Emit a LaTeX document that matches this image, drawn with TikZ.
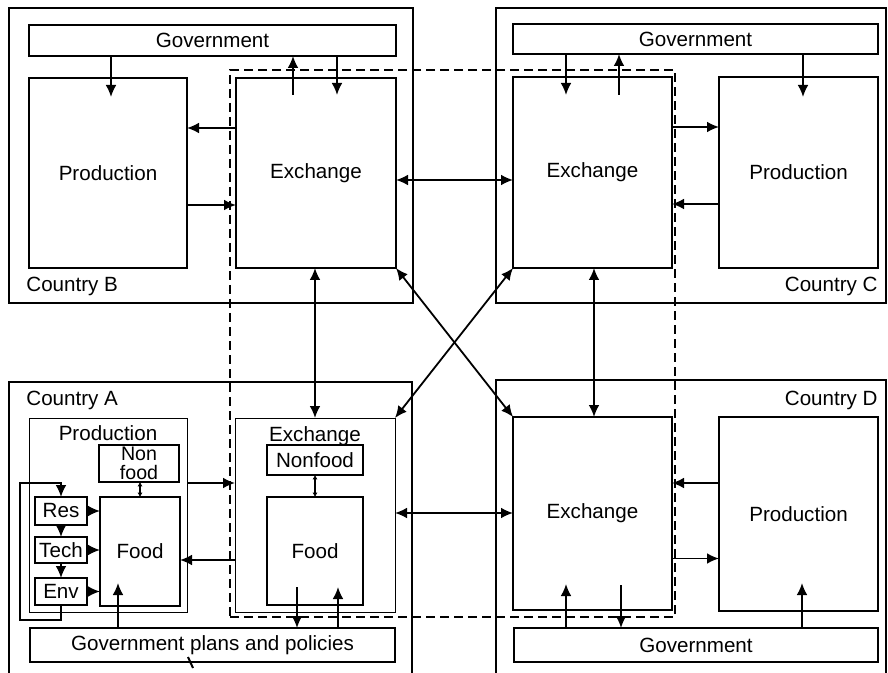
\documentclass[tikz,border=0pt]{standalone}
\usepackage{fontspec}
\setmainfont{Liberation Sans}
\usepackage{tikz}
\usetikzlibrary{arrows.meta, positioning, calc}

\begin{document}
\begin{tikzpicture}[
  x=0.5pt, y=-0.5pt,
  >={Latex[length=6pt,width=5.4pt]},
  land/.style={draw, line width=1.1pt},
  sect/.style={draw, line width=0.8pt, inner sep=0pt, outer sep=0pt,
               font=\fontsize{10.3}{12}\selectfont},
  thinsect/.style={draw, line width=0.5pt, inner sep=0pt, outer sep=0pt},
  tag/.style={inner sep=0pt, font=\fontsize{10.3}{12}\selectfont},
  arr/.style={line width=0.9pt, ->},
  darr/.style={line width=0.9pt, <->},
  link/.style={line width=0.6pt,
               {Latex[length=2.2pt,width=2.6pt]}-{Latex[length=2.2pt,width=2.6pt]}}
]
  \useasboundingbox (0,0) rectangle (888,673);
  % trading block
  \node[draw, dashed, dash pattern=on 4.5pt off 2.5pt, line width=0.7pt,
        inner sep=0pt, minimum width=222.5pt, minimum height=273.5pt]
        (bloc) at (452.5,343.5) {};

  % Country B
  \draw[land] (9,8) rectangle (413,303);
  \node[tag, anchor=base west] (tagB) at (26,292) {Country B};
  \node[sect, minimum width=183.5pt, minimum height=15.5pt] (govB) at (212.5,40.5) {Government};
  \node[sect, minimum width=79pt, minimum height=95pt] (prodB) at (108,173) {Production};
  \node[sect, minimum width=80pt, minimum height=95pt] (exB) at (316,173) {Exchange};
  \draw[arr] ([xshift=1.5pt]govB.south -| prodB.north) -- ([xshift=1.5pt,yshift=-9.5pt]prodB.north);
  \draw[arr] ([xshift=-11.5pt,yshift=-8.5pt]exB.north) -- ([xshift=-11.5pt]exB.north |- govB.south);
  \draw[arr] ([xshift=10.5pt]exB.north |- govB.south) -- ([xshift=10.5pt,yshift=-8.5pt]exB.north);
  \draw[arr] ([yshift=22.5pt]exB.west) -- ([yshift=22.5pt]exB.west -| prodB.east);
  \draw[arr] ([yshift=-16pt]prodB.east) -- ([yshift=-16pt]prodB.east -| exB.west);

  % Country C
  \draw[land] (496,8) rectangle (886,303);
  \node[tag, anchor=base east] (tagC) at (878,292) {Country C};
  \node[sect, minimum width=182.5pt, minimum height=15pt] (govC) at (695.5,39) {Government};
  \node[sect, minimum width=79.5pt, minimum height=95.5pt] (exC) at (592.5,172.5) {Exchange};
  \node[sect, minimum width=79.5pt, minimum height=95.5pt] (prodC) at (798.5,172.5) {Production};
  \draw[arr] ([xshift=-13.25pt]exC.north |- govC.south) -- ([xshift=-13.25pt,yshift=-9pt]exC.north);
  \draw[arr] ([xshift=13.25pt,yshift=-9pt]exC.north) -- ([xshift=13.25pt]exC.north |- govC.south);
  \draw[arr] ([xshift=2.25pt]govC.south -| prodC.north) -- ([xshift=2.25pt,yshift=-10pt]prodC.north);
  \draw[arr] ([yshift=22.75pt]exC.east) -- ([yshift=22.75pt]exC.east -| prodC.west);
  \draw[arr] ([yshift=-15.75pt]prodC.west) -- ([yshift=-15.75pt]prodC.west -| exC.east);

  % Country A
  \draw[land] (9,673) -- (9,382) -- (412,382) -- (412,673);
  \node[tag, anchor=base west] (tagA) at (26,406) {Country A};
  \node[thinsect, minimum width=79pt, minimum height=97pt,
        label={[tag, anchor=north, yshift=-3.5pt]north:Production}] (prodA) at (108,515) {};
  \node[thinsect, minimum width=80pt, minimum height=97pt,
        label={[tag, anchor=north, yshift=-4pt]north:Exchange}] (exA) at (315,515) {};
  \node[sect, minimum width=40pt, minimum height=18.5pt, align=center,
        font=\fontsize{9.8}{9.6}\selectfont] (nonP) at (139,463.5) {Non\\food};
  \node[sect, minimum width=40pt, minimum height=54.5pt] (foodP) at (140,551.5) {Food};
  \node[sect, minimum width=26pt, minimum height=14pt] (res) at (61,511) {Res};
  \node[sect, minimum width=26pt, minimum height=13pt] (tech) at (61,550) {Tech};
  \node[sect, minimum width=26pt, minimum height=13.5pt] (env) at (61,591.5) {Env};
  \node[sect, minimum width=48pt, minimum height=15pt] (nonE) at (315,460) {Nonfood};
  \node[sect, minimum width=48pt, minimum height=54pt] (foodE) at (315,551) {Food};
  \node[sect, minimum width=182.5pt, minimum height=17pt] (plan) at (212.5,645) {Government plans and policies};
  \draw[arr] (res.east) -- (res.east -| foodP.west);
  \draw[arr] (tech.east) -- (tech.east -| foodP.west);
  \draw[arr] (env.east) -- (env.east -| foodP.west);
  \draw[arr] (res.south) -- (tech.north);
  \draw[arr] (tech.south) -- (env.north);
  \draw[arr] (env.south) -- ++(0,15) -| (20,483) -| (res.north);
  \draw[link] (foodP.north) -- (foodP.north |- nonP.south);
  \draw[link] (foodE.north) -- (foodE.north |- nonE.south);
  \draw[arr] ([yshift=16pt]prodA.east) -- ([yshift=16pt]prodA.east -| exA.west);
  \draw[arr] ([yshift=-22.5pt]exA.west) -- ([yshift=-22.5pt]exA.west -| foodP.east);
  \draw[arr] ([xshift=-11pt]foodP.south |- plan.north) -- ([xshift=-11pt,yshift=11.5pt]foodP.south);
  \draw[arr] ([xshift=-9pt,yshift=9pt]foodE.south) -- ([xshift=-9pt]foodE.south |- plan.north);
  \draw[arr] ([xshift=11.5pt]foodE.south |- plan.north) -- ([xshift=11.5pt,yshift=9pt]foodE.south);
  \draw[line width=1pt] (188,657) -- (193,668);

  % Country D
  \draw[land] (496,673) -- (496,380) -- (886,380) -- (886,673);
  \node[tag, anchor=base east] (tagD) at (878,405) {Country D};
  \node[sect, minimum width=79.5pt, minimum height=96.5pt] (exD) at (592.5,513.5) {Exchange};
  \node[sect, minimum width=79.5pt, minimum height=97pt] (prodD) at (798.5,514) {Production};
  \node[sect, minimum width=182pt, minimum height=17pt] (govD) at (696,645) {Government};
  \draw[arr] ([xshift=-13.25pt]exD.south |- govD.north) -- ([xshift=-13.25pt,yshift=13pt]exD.south);
  \draw[arr] ([xshift=14.25pt,yshift=12.5pt]exD.south) -- ([xshift=14.25pt]exD.south |- govD.north);
  \draw[arr] ([xshift=1.75pt]govD.north -| prodD.south) -- ([xshift=1.75pt,yshift=14pt]prodD.south);
  \draw[arr] ([yshift=15.5pt]prodD.west) -- ([yshift=15.5pt]prodD.west -| exD.east);
  \draw[arr] ([yshift=-22.5pt]exD.east) -- ([yshift=-22.5pt]exD.east -| prodD.west);

  % trade between exchanges
  \draw[darr] ([yshift=-3.5pt]exB.east) -- ([yshift=-3.5pt]exB.east -| exC.west);
  \draw[darr] ([yshift=0.25pt]exA.east |- exD.west) -- ([yshift=0.25pt]exD.west);
  \draw[darr] (exA.north |- exB.south) -- (exA.north);
  \draw[darr] ([xshift=0.75pt]exC.south) -- ([xshift=0.75pt]exD.north);
  \draw[darr] (exB.south east) -- (exD.north west);
  \draw[darr] (exC.south west) -- (exA.north east);
\end{tikzpicture}
\end{document}
